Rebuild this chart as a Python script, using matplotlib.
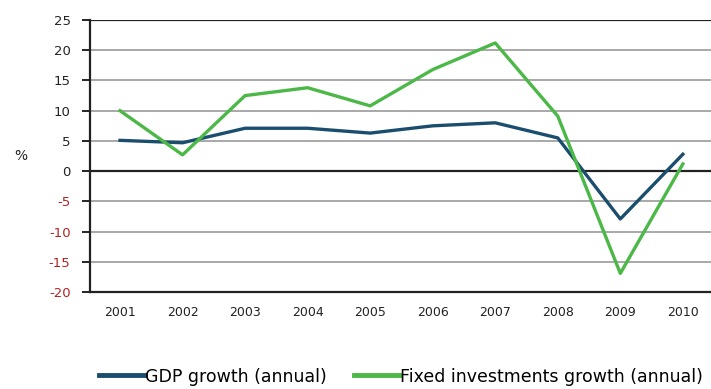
import matplotlib.pyplot as plt

plt.rcParams["axes.unicode_minus"] = False

years = [2001, 2002, 2003, 2004, 2005, 2006, 2007, 2008, 2009, 2010]
gdp_growth = [5.1, 4.7, 7.1, 7.1, 6.3, 7.5, 8.0, 5.5, -7.9, 2.8]
invest_growth = [10.0, 2.7, 12.5, 13.8, 10.8, 16.8, 21.2, 9.1, -16.9, 1.2]
y_ticks = [25, 20, 15, 10, 5, 0, -5, -10, -15, -20]

fig = plt.figure(figsize=(7.11, 3.89), dpi=100)
ax = fig.add_axes([0.1266, 0.249, 0.8734, 0.6996])

for y in y_ticks:
    color = "#222222" if y in (25, 0) else "#999999"
    lw = 1.6 if y in (25, 0) else 1.2
    ax.axhline(y, color=color, linewidth=lw, zorder=1)

ax.plot(years, gdp_growth, color="#1b4e6e", linewidth=2.4, zorder=3,
        label="GDP growth (annual)")
ax.plot(years, invest_growth, color="#4cb847", linewidth=2.4, zorder=3,
        label="Fixed investments growth (annual)")

ax.set_xlim(2000.52, 2010.45)
ax.set_ylim(-20, 25)
ax.set_xticks(years)
ax.set_yticks(y_ticks)
ax.tick_params(axis="x", length=0, pad=10, labelsize=9, labelcolor="#222222")
ax.tick_params(axis="y", length=6, width=1.2, pad=8, labelsize=9.5)
for lbl, y in zip(ax.get_yticklabels(), ax.get_yticks()):
    lbl.set_color("#b22222" if y < 0 else "#222222")

for side in ("top", "right"):
    ax.spines[side].set_visible(False)
ax.spines["left"].set_linewidth(1.6)
ax.spines["bottom"].set_linewidth(1.6)
ax.spines["left"].set_color("#222222")
ax.spines["bottom"].set_color("#222222")

fig.text(0.02, 0.6, "%", fontsize=10, color="#222222", va="center")

leg = fig.legend(loc="center", bbox_to_anchor=(0.564, 0.032), ncol=2,
                 frameon=False, fontsize=12.5, handlelength=2.65,
                 handletextpad=0.0, columnspacing=1.55, borderpad=0,
                 borderaxespad=0)
for line in leg.get_lines():
    line.set_linewidth(3.5)

fig.savefig("out.png", dpi=100)
